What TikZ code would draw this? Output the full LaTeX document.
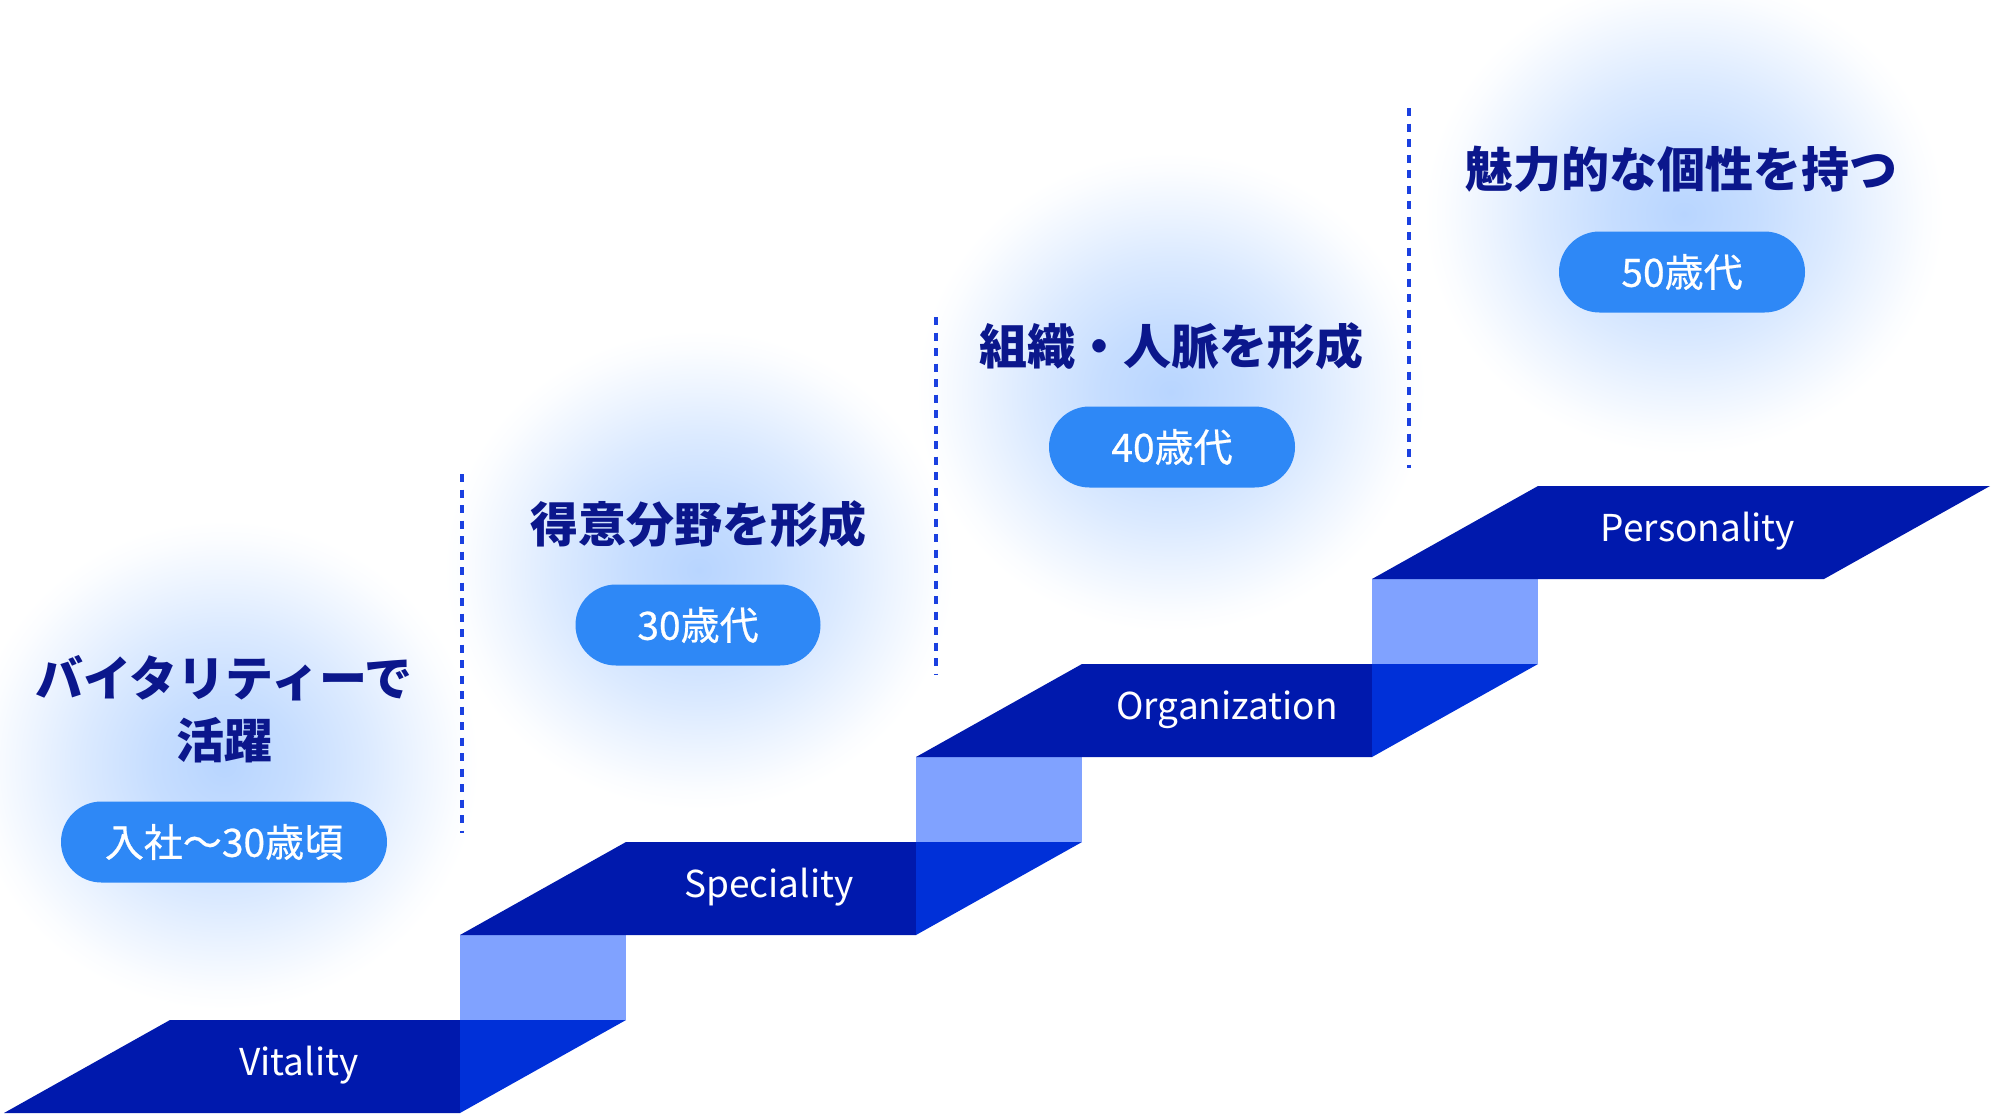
\documentclass[tikz,border=0pt]{standalone}
\usepackage{fontspec}
\setmainfont{Noto Sans CJK JP}
\newfontfamily\pillfont[FakeBold=0.6]{Noto Sans CJK JP}
\usetikzlibrary{shapes.misc}
\definecolor{darkband}{HTML}{0019AD}
\definecolor{sideband}{HTML}{0030D8}
\definecolor{riserc}{HTML}{80A2FF}
\definecolor{pillc}{HTML}{2E88F6}
\definecolor{headc}{HTML}{0B178C}
\definecolor{dotc}{HTML}{1A40E0}
\definecolor{glowc}{HTML}{B8D5FF}
\pgfdeclareradialshading{glow}{\pgfpoint{0bp}{0bp}}{color(0bp)=(glowc); color(7bp)=(glowc!80!white); color(14bp)=(glowc!50!white); color(19bp)=(glowc!25!white); color(23bp)=(glowc!6!white); color(25bp)=(white); color(50bp)=(white)}
\tikzset{
  pill/.style={rounded rectangle, fill=pillc, text=white, minimum height=81, inner sep=0pt, font=\fontsize{39}{44}\pillfont},
  headtext/.style={text=headc, font=\fontsize{48}{62}\selectfont\bfseries, align=center, inner sep=0pt},
  bandlabel/.style={text=white, font=\fontsize{37}{40}\selectfont, anchor=base, inner sep=0pt},
  divider/.style={dotc, line width=3.4pt, dash pattern=on 8pt off 7.5pt},
  glowspot/.style={shading=glow}
}
\begin{document}
\begin{tikzpicture}[x=1pt,y=-1pt]
\useasboundingbox (0,0) rectangle (1994,1114);
\fill[white] (0,0) rectangle (1994,1114);
% glows
\shade[glowspot] (224,765) ellipse [x radius=255, y radius=245];
\shade[glowspot] (699,570) ellipse [x radius=255, y radius=240];
\shade[glowspot] (1171,392) ellipse [x radius=255, y radius=240];
\shade[glowspot] (1684,214) ellipse [x radius=260, y radius=240];
% dividers
\draw[divider] (462,474) -- (462,833);
\draw[divider] (936,317) -- (936,674);
\draw[divider] (1409,108) -- (1409,468);
% step 0
\fill[riserc] (460,935) rectangle (626,1020);
\fill[darkband] (4,1113) -- (170,1020) -- (460,1020) -- (460,1113) -- cycle;
\fill[sideband] (460,1020) -- (626,1020) -- (460,1113) -- cycle;
% step 1
\fill[riserc] (916,757) rectangle (1082,842);
\fill[darkband] (460,935) -- (626,842) -- (916,842) -- (916,935) -- cycle;
\fill[sideband] (916,842) -- (1082,842) -- (916,935) -- cycle;
% step 2
\fill[riserc] (1372,579) rectangle (1538,664);
\fill[darkband] (916,757) -- (1082,664) -- (1372,664) -- (1372,757) -- cycle;
\fill[sideband] (1372,664) -- (1538,664) -- (1372,757) -- cycle;
% step 3
\fill[darkband] (1372,579) -- (1538,486) -- (1990,486) -- (1824,579) -- cycle;
% band labels
\node[bandlabel] (lv) at (299,1075) {Vitality};
\node[bandlabel] (ls) at (769,897) {Speciality};
\node[bandlabel] (lo) at (1227,719) {Organization};
\node[bandlabel] (lp) at (1698,541) {Personality};
% headings
\node[headtext] (h1a) at (224,678) {バイタリティーで};
\node[headtext] (h1b) at (224,740) {活躍};
\node[headtext] (h2) at (698,524) {得意分野を形成};
\node[headtext] (h3) at (1171,346) {組織・人脈を形成};
\node[headtext] (h4) at (1681,169) {魅力的な個性を持つ};
% pills
\node[pill, minimum width=326] (p1) at (224,842) {入社〜30歳頃};
\node[pill, minimum width=245] (p2) at (698,625) {30歳代};
\node[pill, minimum width=246] (p3) at (1172,447) {40歳代};
\node[pill, minimum width=246] (p4) at (1682,272) {50歳代};
\end{tikzpicture}
\end{document}
